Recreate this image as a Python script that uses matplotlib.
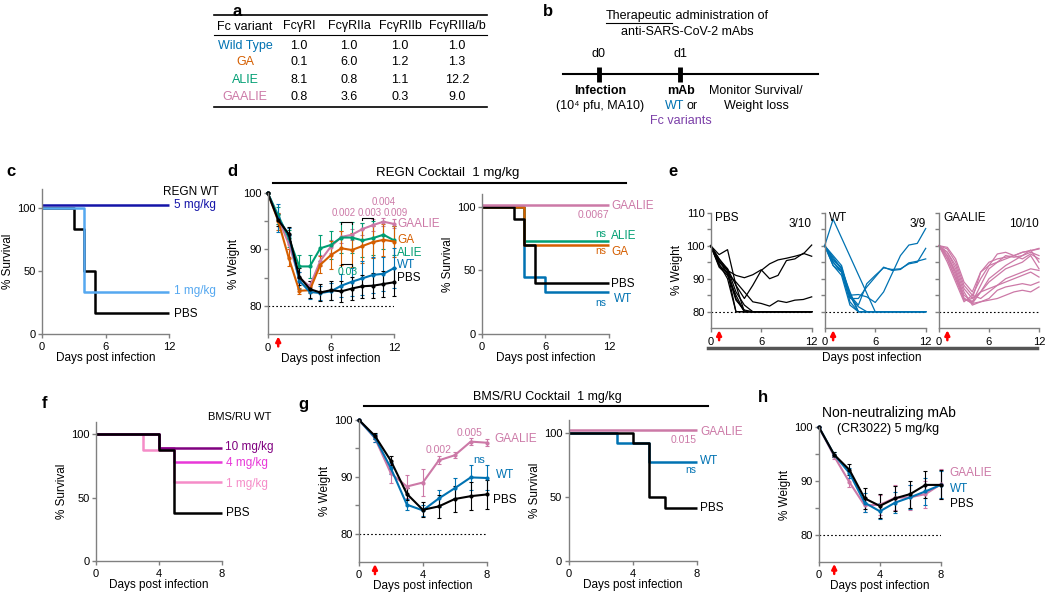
import numpy as np
import matplotlib
matplotlib.use("Agg")
import matplotlib.pyplot as plt
from matplotlib.lines import Line2D

plt.rcParams["font.family"] = ["Liberation Sans", "DejaVu Sans"]
plt.rcParams["font.size"] = 8

W, H = 1050, 598

BLUE = "#0072B2"
ORANGE = "#D55E00"
GREEN = "#009E73"
PINK = "#CC79A7"
GREY = "#808080"

# ---------------- data ----------------
# a: relative binding table
variants = ["Wild Type", "GA", "ALIE", "GAALIE"]
variant_colors = [BLUE, ORANGE, GREEN, PINK]
receptors = ["FcγRI", "FcγRIIa", "FcγRIIb", "FcγRIIIa/b"]
fold_binding = [
    [1.0, 1.0, 1.0, 1.0],
    [0.1, 6.0, 1.2, 1.3],
    [8.1, 0.8, 1.1, 12.2],
    [0.8, 3.6, 0.3, 9.0],
]

days12 = list(range(13))
days8 = list(range(9))

# c: REGN WT survival
c_5mg_t, c_5mg_s = [0, 12], [100, 100]
c_1mg_t, c_1mg_s = [0, 4, 12], [100, 33.3, 33.3]
c_pbs_t, c_pbs_s = [0, 3, 4, 5, 12], [100, 83.3, 50, 16.7, 16.7]

# d: REGN cocktail 1 mg/kg weight (mean, sd)
d_pbs = [100, 95.2, 92.7, 85.2, 83.0, 82.4, 82.8, 82.6, 83.1, 83.5, 83.6, 83.9, 84.2]
d_pbs_sd = [0, 1.0, 1.2, 1.5, 1.5, 1.5, 1.7, 1.8, 2.0, 2.0, 2.2, 2.3, 2.5]
d_wt = [100, 95.5, 92.5, 84.5, 82.5, 82.3, 82.6, 83.6, 84.3, 84.9, 85.5, 85.7, 86.7]
d_wt_sd = [0, 2.5, 1.2, 1.5, 1.2, 1.3, 1.5, 2.0, 2.5, 3.0, 3.2, 3.0, 3.5]
d_ga = [100, 95.0, 88.5, 82.7, 82.8, 87.3, 89.0, 90.2, 89.9, 90.6, 91.3, 91.7, 91.4]
d_ga_sd = [0, 1.5, 1.5, 0.5, 0.5, 1.5, 2.5, 3.0, 3.0, 3.0, 2.8, 2.8, 2.8]
d_alie = [100, 96.0, 92.0, 87.0, 87.0, 90.2, 90.8, 92.1, 92.1, 91.6, 92.0, 92.6, 91.6]
d_alie_sd = [0, 1.5, 1.5, 2.0, 2.0, 2.3, 2.5, 2.7, 2.7, 3.0, 3.0, 2.5, 2.5]
d_gaalie = [100, 95.5, 91.0, 85.0, 83.5, 88.0, 90.5, 92.2, 92.6, 93.6, 94.3, 94.9, 94.5]
d_gaalie_sd = [0, 1.0, 1.0, 1.0, 1.0, 1.0, 1.2, 1.0, 1.0, 1.0, 1.0, 0.7, 0.8]

# d: survival
dr_gaalie_t, dr_gaalie_s = [0, 12], [100, 100]
dr_alie_t, dr_alie_s = [0, 4, 12], [100, 72.7, 72.7]
dr_ga_t, dr_ga_s = [0, 4, 12], [100, 70, 70]
dr_pbs_t, dr_pbs_s = [0, 3, 4, 5, 12], [100, 90, 70, 40, 40]
dr_wt_t, dr_wt_s = [0, 4, 6, 12], [100, 44.4, 33.3, 33.3]

# e: individual mice
e_pbs = [
    [100, 96, 92.5, 91.0, 90.3, 91.2, 92.7, 90.0, 91.0, 95.5, 96.0, 97.7, 96.8],
    [100, 95, 93, 88, 84, 88, 92.5, 94.5, 95.7, 96.2, 96.8, 97.5, 100.2],
    [100, 94, 91.5, 89, 86, 83, 82.5, 81.7, 83.3, 82.8, 83.5, 83.7, 84.5],
    [100, 97.3, 98.8, 88, 80, 80, 80, 80, 80, 80, 80, 80, 80],
    [100, 94, 92, 80, 80, 80, 80, 80, 80, 80, 80, 80, 80],
    [100, 95, 92.5, 84, 80, 80, 80, 80, 80, 80, 80, 80, 80],
    [100, 93.5, 91, 85, 80, 80, 80, 80, 80, 80, 80, 80, 80],
    [100, 96, 93, 86, 82, 80, 80, 80, 80, 80, 80, 80, 80],
    [100, 94.5, 90, 80, 80, 80, 80, 80, 80, 80, 80, 80, 80],
    [100, 95.5, 91.5, 83.5, 80.5, 80, 80, 80, 80, 80, 80, 80, 80],
]
e_wt = [
    [100, 108, None, None, None, None, 80, 80, 80, 80, 80, 80, 80],
    [100, 96, 93, 85, 85.2, 84.5, 82.8, 86, 91.5, 97, 100.2, 100.7, 105.2],
    [100, 95, 92.5, 85, 82, 88.5, 91, 93.3, 92.8, 93, 94.5, 95, 99.2],
    [100, 94, 92, 84, 84, 87.5, 90.5, 93.5, 92.5, 92.8, 94.8, 95.3, 96],
    [100, 96.5, 93, 86, 80, 80, 80, 80, 80, 80, 80, 80, 80],
    [100, 95, 92, 83, 80, 80, 80, 80, 80, 80, 80, 80, 80],
    [100, 94, 91, 82, 80, 80, 80, 80, 80, 80, 80, 80, 80],
    [100, 97, 94, 85, 80, 80, 80, 80, 80, 80, 80, 80, 80],
    [100, 95.5, 93.5, 84.5, 81.5, 80, 80, 80, 80, 80, 80, 80, 80],
]
e_gaalie = [
    [100, 98, 94, 87, 84, 92, 95, 96, 96.5, 97, 98, 98.5, 99],
    [100, 97, 92, 85, 83, 88, 93, 95, 97, 96.5, 97, 98, 97],
    [100, 96, 90, 84, 82.5, 86, 90, 92, 94, 95.5, 97, 98.7, 95],
    [100, 99, 95, 88, 85, 90, 94, 97.5, 98, 97, 96, 97.5, 96],
    [100, 97, 91, 83.5, 84, 86, 89, 91, 93, 94, 95, 97, 93],
    [100, 95, 89, 83, 85, 84, 86, 88, 90, 91, 92, 93, 92.5],
    [100, 96, 90, 84, 83, 86, 87, 88, 89, 90, 91, 92, 90.5],
    [100, 98, 93, 86, 82, 83, 83.5, 84, 85, 86, 86.5, 86, 87.5],
    [100, 97, 92, 84, 82.5, 83, 84, 86.5, 87.5, 88, 88.5, 88, 89],
    [100, 99.5, 96, 89, 86, 92, 94, 95, 96, 97, 98, 98.5, 99.2],
]

# f: BMS/RU WT survival
f_pbs_t, f_pbs_s = [0, 4, 5, 8], [100, 87.5, 37.5, 37.5]
f_10_t, f_10_s = [0, 4, 8], [100, 88.9, 88.9]
f_4_t, f_4_s = [0, 4, 5, 8], [100, 88.9, 77.8, 77.8]
f_1_t, f_1_s = [0, 3, 5, 8], [100, 87.5, 62.5, 62.5]

# g: BMS/RU cocktail weight
g_pbs = [100, 97.2, 92.8, 87.0, 84.2, 84.8, 86.1, 86.6, 86.9]
g_pbs_sd = [0, 0.5, 0.8, 1.0, 1.3, 2.0, 2.3, 2.5, 2.5]
g_wt = [100, 96.9, 91.5, 85.1, 84.1, 86.2, 88.0, 89.9, 89.8]
g_wt_sd = [0, 0.7, 1.0, 1.0, 1.0, 1.5, 1.8, 2.2, 2.2]
g_gaalie = [100, 96.8, 90.6, 88.3, 89.0, 92.9, 93.8, 96.2, 96.0]
g_gaalie_sd = [0, 0.6, 1.7, 2.0, 2.3, 0.7, 0.5, 0.6, 0.6]

# g: survival
gr_gaalie_t, gr_gaalie_s = [0, 8], [100, 100]
gr_wt_t, gr_wt_s = [0, 3, 5, 8], [100, 92.3, 76.9, 76.9]
gr_pbs_t, gr_pbs_s = [0, 4, 5, 6, 8], [100, 91.7, 50, 41.7, 41.7]

# h: non-neutralizing mAb weight
h_pbs = [100, 94.9, 92.1, 86.8, 85.4, 86.8, 87.6, 89.3, 89.3]
h_pbs_sd = [0, 0.5, 1.0, 2.0, 2.3, 2.3, 2.5, 2.5, 2.7]
h_wt = [100, 94.9, 91.5, 86.0, 84.4, 86.0, 87.0, 88.1, 89.3]
h_wt_sd = [0, 0.5, 1.0, 1.8, 1.5, 2.0, 2.2, 2.5, 2.5]
h_gaalie = [100, 94.6, 89.8, 85.5, 85.6, 86.9, 87.0, 87.6, 89.4]
h_gaalie_sd = [0, 0.5, 0.8, 1.3, 1.8, 2.3, 2.3, 2.5, 2.8]

# ---------------- helpers ----------------
fig = plt.figure(figsize=(W / 100, H / 100), dpi=100)


def fx(px):
    return px / W


def fy(py):
    return 1 - py / H


def ftext(px, py, s, **kw):
    kw.setdefault("ha", "center")
    kw.setdefault("va", "center")
    return fig.text(fx(px), fy(py), s, **kw)


def fline(x0, x1, y0, y1, **kw):
    fig.add_artist(Line2D([fx(x0), fx(x1)], [fy(y0), fy(y1)],
                          transform=fig.transFigure, **kw))


def make_axes(x0, x1, ytop, ybot):
    return fig.add_axes([fx(x0), fy(ybot), (x1 - x0) / W, (ybot - ytop) / H])


def prism(ax, xmax, ylim, yticks, yminor=(), ylabel=None, xlabel=True):
    ax.set_xlim(0, xmax)
    ax.set_ylim(*ylim)
    ax.spines[["top", "right"]].set_visible(False)
    for s in ("left", "bottom"):
        ax.spines[s].set_color(GREY)
        ax.spines[s].set_linewidth(1)
    ax.set_xticks([0, xmax // 2, xmax])
    ax.set_yticks(yticks)
    ax.set_yticks(list(yminor), minor=True)
    ax.tick_params(which="both", color=GREY, length=3, width=1, labelsize=8, pad=1.5)
    ax.tick_params(axis="x", pad=3)
    ax.patch.set_alpha(0)
    if ylabel:
        ax.set_ylabel(ylabel, fontsize=8.5, labelpad=2)
    if xlabel:
        ax.set_xlabel("Days post infection", fontsize=8.5, labelpad=0)


def km(ax, t, s, color, offset=0.0, lw=1.8):
    ax.plot(t, np.array(s) + offset, drawstyle="steps-post", color=color,
            lw=lw, clip_on=False, solid_capstyle="butt")


def weight(ax, days, mean, sd, color):
    cont = ax.errorbar(days, mean, yerr=sd, color=color, lw=1.5, elinewidth=0.8,
                       capsize=1.5, capthick=0.8, marker="o", ms=2)
    for a in cont.get_children():
        a.set_clip_on(False)


def dotted80(ax):
    ax.axhline(80, color="black", lw=0.8, ls=(0, (1.5, 2)))


def red_arrow(ax):
    h = ax.get_position().height * H
    ax.annotate("", xy=(1, -2 / h), xytext=(1, -12 / h),
                xycoords=ax.get_xaxis_transform(), textcoords=ax.get_xaxis_transform(),
                arrowprops=dict(arrowstyle="-|>", color="red", lw=1.8,
                                mutation_scale=7, shrinkA=0, shrinkB=0))


def lab(ax, x, y, s, color="black", size=8.5, ha="left"):
    ax.text(x, y, s, color=color, fontsize=size, ha=ha, va="center", clip_on=False)


# panel letters
for L, px, py in [("a", 237, 12), ("b", 548, 12), ("c", 11, 172), ("d", 232, 172),
                  ("e", 673, 172), ("f", 45, 404), ("g", 303, 405), ("h", 763, 398)]:
    ftext(px, py, L, fontsize=12, fontweight="bold")

# ---------------- a: table ----------------
col_x = [245, 299, 349, 400, 457]
row_y = [45.7, 62.3, 80, 97.3]
fline(214, 487, 15, 15, color="black", lw=1.2)
fline(214, 487, 35, 35, color="black", lw=0.8)
fline(214, 487, 106.7, 106.7, color="black", lw=1.2)
ftext(col_x[0], 26.5, "Fc variant", fontsize=9)
for x, r in zip(col_x[1:], receptors):
    ftext(x, 26.5, r, fontsize=9)
for y, v, c, vals in zip(row_y, variants, variant_colors, fold_binding):
    ftext(col_x[0], y, v, color=c, fontsize=9)
    for x, val in zip(col_x[1:], vals):
        ftext(x, y, f"{val:.1f}", fontsize=9)

# ---------------- b: schematic ----------------
r = fig.canvas.get_renderer()
t1 = ftext(0, 16, "Therapeutic", ha="left", fontsize=9)
t2 = ftext(0, 16, " administration of", ha="left", fontsize=9)
w1 = t1.get_window_extent(r).width
w2 = t2.get_window_extent(r).width
xs = 687 - (w1 + w2) / 2
t1.set_x(fx(xs))
t2.set_x(fx(xs + w1))
fline(xs, xs + w1, 23, 23, color="black", lw=0.8)
ftext(687, 32, "anti-SARS-CoV-2 mAbs", fontsize=9)
fline(563, 818, 74, 74, color="black", lw=1.5)
fline(599, 599, 66.5, 81.5, color="black", lw=3.5, solid_capstyle="butt")
fline(680, 680, 66.5, 81.5, color="black", lw=3.5, solid_capstyle="butt")
ftext(599, 54, "d0", fontsize=9)
ftext(680, 54, "d1", fontsize=9)
ftext(600, 91, "Infection", fontsize=9, fontweight="bold")
ftext(600, 106, "(10⁴ pfu, MA10)", fontsize=9)
ftext(681, 91, "mAb", fontsize=9, fontweight="bold")
ftext(684, 106, "WT", ha="right", color=BLUE, fontsize=9)
ftext(686.5, 106, "or", ha="left", fontsize=9)
ftext(681, 121, "Fc variants", color="#7B3FA8", fontsize=9)
ftext(756, 91, "Monitor Survival/", fontsize=9)
ftext(756, 106, "Weight loss", fontsize=9)

# ---------------- c ----------------
ax = make_axes(42, 169.3, 189, 334)
prism(ax, 12, (0, 115), [0, 50, 100], ylabel="% Survival")
km(ax, c_pbs_t, c_pbs_s, "black")
km(ax, c_1mg_t, c_1mg_s, "#55A8F0")
km(ax, c_5mg_t, c_5mg_s, "#1414A8", offset=2)
lab(ax, 11.4, 113, "REGN WT", size=8.5)
lab(ax, 12.4, 102.5, "5 mg/kg", color="#1414A8")
lab(ax, 12.4, 34.2, "1 mg/kg", color="#55A8F0")
lab(ax, 12.4, 15.5, "PBS")

# ---------------- d weight ----------------
ax = make_axes(267.7, 394, 192.8, 334.4)
prism(ax, 12, (75, 100), [80, 90, 100], yminor=[85, 95], ylabel="% Weight")
dotted80(ax)
weight(ax, days12, d_gaalie, d_gaalie_sd, PINK)
weight(ax, days12, d_alie, d_alie_sd, GREEN)
weight(ax, days12, d_ga, d_ga_sd, ORANGE)
weight(ax, days12, d_wt, d_wt_sd, BLUE)
weight(ax, days12, d_pbs, d_pbs_sd, "black")
red_arrow(ax)
for x0, x1, y in [(7, 8, 94.8), (9, 10, 95.5), (7, 8, 87.4)]:
    ax.plot([x0, x0, x1, x1], [y - 0.3, y, y, y - 0.3], color="black", lw=0.8, clip_on=False)
lab(ax, 7.2, 96.4, "0.002", color=PINK, size=7, ha="center")
lab(ax, 9.65, 96.5, "0.003", color=PINK, size=7, ha="center")
lab(ax, 12.15, 96.5, "0.009", color=PINK, size=7, ha="center")
lab(ax, 11.0, 98.3, "0.004", color=PINK, size=7, ha="center")
lab(ax, 7.6, 86.0, "0.03", color=GREEN, size=7.5, ha="center")
lab(ax, 12.3, 94.5, "GAALIE", color=PINK)
lab(ax, 12.3, 91.6, "GA", color=ORANGE)
lab(ax, 12.3, 89.3, "ALIE", color=GREEN)
lab(ax, 12.3, 87.2, "WT", color=BLUE)
lab(ax, 12.3, 84.9, "PBS")

ftext(448, 173, "REGN Cocktail  1 mg/kg", fontsize=9.5)
fline(273, 626, 183, 183, color="black", lw=1.5)

# ---------------- d survival ----------------
ax = make_axes(481.7, 609, 194, 334)
prism(ax, 12, (0, 110), [0, 50, 100], ylabel="% Survival")
km(ax, dr_wt_t, dr_wt_s, BLUE)
km(ax, dr_alie_t, dr_alie_s, GREEN)
km(ax, dr_ga_t, dr_ga_s, ORANGE)
km(ax, dr_pbs_t, dr_pbs_s, "black")
km(ax, dr_gaalie_t, dr_gaalie_s, PINK, offset=1.2)
lab(ax, 12.2, 100.5, "GAALIE", color=PINK)
lab(ax, 12.0, 93.3, "0.0067", color=PINK, size=7.5, ha="right")
lab(ax, 11.7, 78.5, "ns", color=GREEN, size=7.5, ha="right")
lab(ax, 12.2, 77.3, "ALIE", color=GREEN)
lab(ax, 11.7, 65.5, "ns", color=ORANGE, size=7.5, ha="right")
lab(ax, 12.2, 64.8, "GA", color=ORANGE)
lab(ax, 12.2, 39.4, "PBS")
lab(ax, 12.5, 27.7, "WT", color=BLUE)
lab(ax, 11.7, 24.6, "ns", color=BLUE, size=7.5, ha="right")

# ---------------- e ----------------
e_sets = [(710.7, 811.7, e_pbs, "black", "PBS", "3/10"),
          (824.7, 925.7, e_wt, BLUE, "WT", "3/9"),
          (939, 1039, e_gaalie, PINK, "GAALIE", "10/10")]
for i, (x0, x1, traces, col, name, frac) in enumerate(e_sets):
    ax = make_axes(x0, x1, 212.7, 328.2)
    prism(ax, 12, (75, 110), [80, 90, 100, 110], yminor=[85, 95, 105],
          ylabel="% Weight" if i == 0 else None, xlabel=False)
    if i > 0:
        ax.set_yticklabels([])
    dotted80(ax)
    for tr in traces:
        y = np.array([np.nan if v is None else v for v in tr], dtype=float)
        ok = np.isfinite(y)
        ax.plot(np.array(days12)[ok], y[ok], color=col, lw=0.9, clip_on=False)
    red_arrow(ax)
    lab(ax, 0.5, 108.5, name, size=8.5)
    lab(ax, 12.0, 106.5, frac, size=8.5, ha="right")
fline(708, 1037, 347.5, 347.5, color="#555555", lw=2.5)
ftext(872, 358, "Days post infection", fontsize=8.5)

# ---------------- f ----------------
ax = make_axes(95.7, 221.7, 421.6, 561)
prism(ax, 8, (0, 110), [0, 50, 100], ylabel="% Survival")
km(ax, f_1_t, f_1_s, "#F58CC8")
km(ax, f_4_t, f_4_s, "#E838D8")
km(ax, f_10_t, f_10_s, "#800080")
km(ax, f_pbs_t, f_pbs_s, "black")
lab(ax, 7.1, 114, "BMS/RU WT", size=8)
lab(ax, 8.2, 90, "10 mg/kg", color="#800080")
lab(ax, 8.3, 77.6, "4 mg/kg", color="#E838D8")
lab(ax, 8.3, 60.5, "1 mg/kg", color="#F58CC8")
lab(ax, 8.3, 37.5, "PBS")

# ---------------- g weight ----------------
ax = make_axes(359, 486.7, 420, 562.1)
prism(ax, 8, (75, 100), [80, 90, 100], yminor=[85, 95], ylabel="% Weight")
dotted80(ax)
weight(ax, days8, g_gaalie, g_gaalie_sd, PINK)
weight(ax, days8, g_wt, g_wt_sd, BLUE)
weight(ax, days8, g_pbs, g_pbs_sd, "black")
red_arrow(ax)
lab(ax, 4.97, 94.7, "0.002", color=PINK, size=7.5, ha="center")
lab(ax, 6.95, 97.8, "0.005", color=PINK, size=7.5, ha="center")
lab(ax, 7.5, 93.0, "ns", color=BLUE, size=8, ha="center")
lab(ax, 8.45, 96.6, "GAALIE", color=PINK)
lab(ax, 8.6, 90.3, "WT", color=BLUE)
lab(ax, 8.4, 86.0, "PBS")

ftext(547, 397, "BMS/RU Cocktail  1 mg/kg", fontsize=9)
fline(364, 708, 406, 406, color="black", lw=1.5)

# ---------------- g survival ----------------
ax = make_axes(568.5, 696.7, 419.9, 561)
prism(ax, 8, (0, 110), [0, 50, 100], ylabel="% Survival")
km(ax, gr_wt_t, gr_wt_s, BLUE)
km(ax, gr_pbs_t, gr_pbs_s, "black")
km(ax, gr_gaalie_t, gr_gaalie_s, PINK, offset=1.8)
lab(ax, 8.2, 100.3, "GAALIE", color=PINK)
lab(ax, 8.0, 94.3, "0.015", color=PINK, size=7.5, ha="right")
lab(ax, 8.2, 78.0, "WT", color=BLUE)
lab(ax, 8.0, 71.0, "ns", color=BLUE, size=7.5, ha="right")
lab(ax, 8.2, 41.0, "PBS")

# ---------------- h ----------------
ax = make_axes(819, 940.7, 427.3, 561.9)
prism(ax, 8, (75, 100), [80, 90, 100], yminor=[85, 95], ylabel="% Weight")
dotted80(ax)
weight(ax, days8, h_gaalie, h_gaalie_sd, PINK)
weight(ax, days8, h_wt, h_wt_sd, BLUE)
weight(ax, days8, h_pbs, h_pbs_sd, "black")
red_arrow(ax)
lab(ax, 8.6, 91.5, "GAALIE", color=PINK)
lab(ax, 8.6, 88.6, "WT", color=BLUE)
lab(ax, 8.6, 85.8, "PBS")
ftext(889, 413, "Non-neutralizing mAb", fontsize=10)
ftext(888, 429, "(CR3022) 5 mg/kg", fontsize=9)

fig.savefig("out.png", dpi=100)
